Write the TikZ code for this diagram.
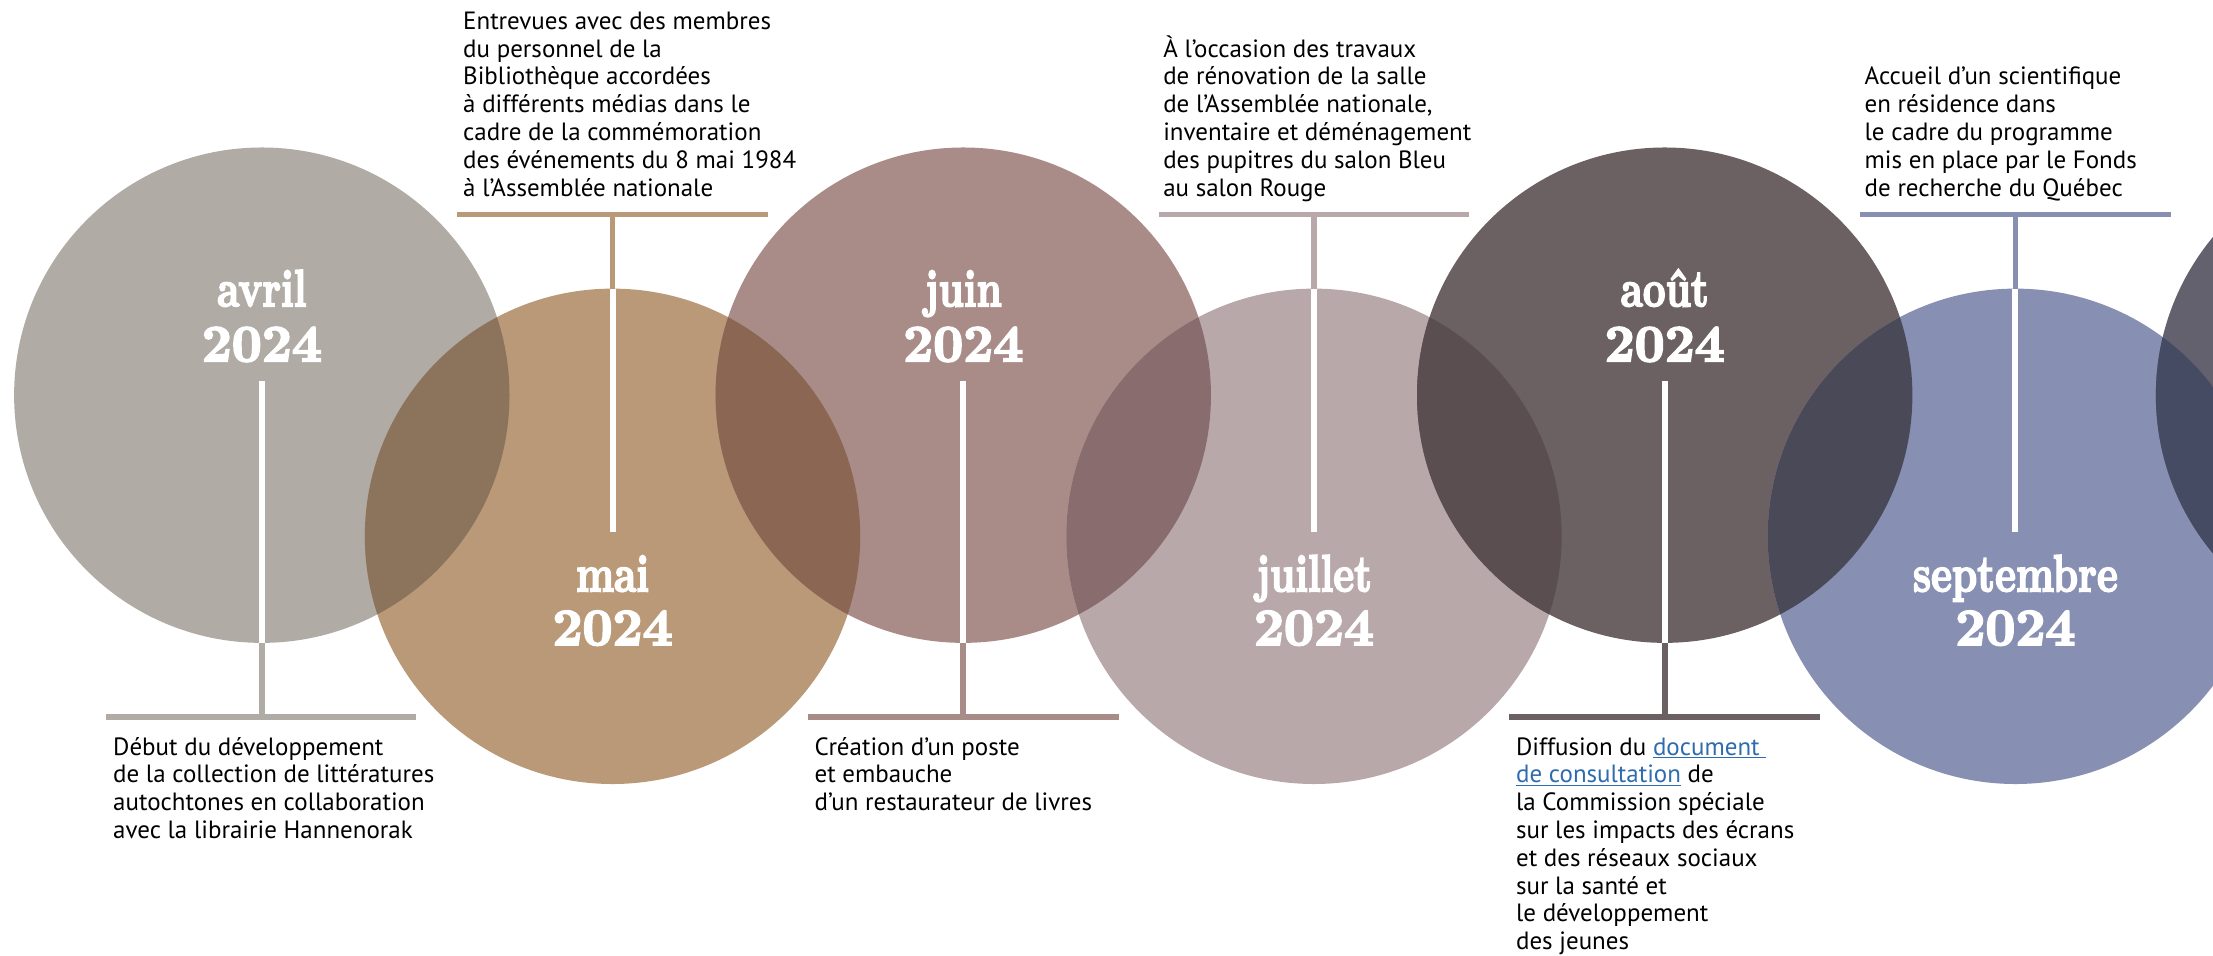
\documentclass[tikz,border=0pt]{standalone}
\usepackage{fontspec}
\usepackage{graphicx}
\newfontfamily\bodyfont{PT Sans}
\newfontfamily\dispfont{lmroman10-bold.otf}[FakeBold=3.5]
\definecolor{cA}{HTML}{B1ABA5}
\definecolor{cM}{HTML}{BA9978}
\definecolor{cJn}{HTML}{A98C88}
\definecolor{cJl}{HTML}{B8A8AA}
\definecolor{cAo}{HTML}{6B6162}
\definecolor{cS}{HTML}{8790B2}
\definecolor{cF}{HTML}{64616F}
\definecolor{oAM}{HTML}{8B735C}
\definecolor{oMJ}{HTML}{8A6653}
\definecolor{oJJ}{HTML}{896C6E}
\definecolor{oJA}{HTML}{5B4E51}
\definecolor{oAS}{HTML}{4A4957}
\definecolor{oSF}{HTML}{454B62}
\definecolor{linkc}{HTML}{2F6BAF}
\newcommand\lnk[1]{\textcolor{linkc}{\underline{#1}}}
\newcommand\mth[1]{\scalebox{0.76}[1]{#1}}
\tikzset{
  circ/.style={circle, minimum size=351pt, inner sep=0pt, outer sep=0pt, draw=none},
  lbl/.style={text=white, font=\dispfont\fontsize{37}{37}\selectfont, inner sep=0pt, anchor=base},
  barline/.style={line width=4pt},
  wline/.style={white, line width=4.25pt},
  toptext/.style={anchor=south west, align=left, inner sep=0pt, font=\bodyfont\fontsize{17.7}{19.7}\selectfont},
  bottext/.style={anchor=north west, align=left, inner sep=0pt, font=\bodyfont\fontsize{17.7}{19.7}\selectfont},
}
\begin{document}
\begin{tikzpicture}[x=1pt,y=-1pt]
\useasboundingbox (0,0) rectangle (1568,677);
% circles
\node[circ, fill=cA]  (avC) at (185.5,280) {};
\node[circ, fill=cM]  (maC) at (434,380) {};
\node[circ, fill=cJn] (jnC) at (682.5,280) {};
\node[circ, fill=cJl] (jlC) at (931,380) {};
\node[circ, fill=cAo] (aoC) at (1179.5,280) {};
\node[circ, fill=cS]  (seC) at (1428,380) {};
\node[circ, fill=cF]  (fiC) at (1703,280) {};
% overlaps
\begin{scope}\clip (avC.center) circle (175.5pt); \fill[oAM] (maC.center) circle (175.5pt);\end{scope}
\begin{scope}\clip (maC.center) circle (175.5pt); \fill[oMJ] (jnC.center) circle (175.5pt);\end{scope}
\begin{scope}\clip (jnC.center) circle (175.5pt); \fill[oJJ] (jlC.center) circle (175.5pt);\end{scope}
\begin{scope}\clip (jlC.center) circle (175.5pt); \fill[oJA] (aoC.center) circle (175.5pt);\end{scope}
\begin{scope}\clip (aoC.center) circle (175.5pt); \fill[oAS] (seC.center) circle (175.5pt);\end{scope}
\begin{scope}\clip (seC.center) circle (175.5pt); \fill[oSF] (fiC.center) circle (175.5pt);\end{scope}
% labels
\node[lbl] (avM) at (185.5,217) {\mth{avril}};
\node[lbl] (avY) at (185.5,256) {2024};
\node[lbl] (maM) at (434,419) {\mth{mai}};
\node[lbl] (maY) at (434,457) {2024};
\node[lbl] (jnM) at (682.5,217) {\mth{juin}};
\node[lbl] (jnY) at (682.5,256) {2024};
\node[lbl] (jlM) at (931,419) {\mth{juillet}};
\node[lbl] (jlY) at (931,457) {2024};
\node[lbl] (aoM) at (1179.5,217) {\mth{août}};
\node[lbl] (aoY) at (1179.5,256) {2024};
\node[lbl] (seM) at (1428,419) {\mth{septembre}};
\node[lbl] (seY) at (1428,457) {2024};
% connector coordinates
\coordinate (avW) at (185.5,270);  \coordinate (avB) at (185.5,508);
\coordinate (avBL) at (75,508);    \coordinate (avBR) at (295,508);
\coordinate (maW) at (434,377);    \coordinate (maB) at (434,152);
\coordinate (maBL) at (324,152);   \coordinate (maBR) at (544,152);
\coordinate (jnW) at (682.5,270);  \coordinate (jnB) at (682.5,508);
\coordinate (jnBL) at (572.5,508); \coordinate (jnBR) at (792.5,508);
\coordinate (jlW) at (931,377);    \coordinate (jlB) at (931,152);
\coordinate (jlBL) at (821,152);   \coordinate (jlBR) at (1041,152);
\coordinate (aoW) at (1179.5,270); \coordinate (aoB) at (1179.5,508);
\coordinate (aoBL) at (1069.5,508);\coordinate (aoBR) at (1289.5,508);
\coordinate (seW) at (1428,377);   \coordinate (seB) at (1428,152);
\coordinate (seBL) at (1318,152);  \coordinate (seBR) at (1538,152);
% connectors
\draw[barline, cA] (avC.south) -- (avB);  \draw[barline, cA] (avBL) -- (avBR);  \draw[wline] (avW) -- (avC.south);
\draw[barline, cM] (maB) -- (maC.north);  \draw[barline, cM] (maBL) -- (maBR);  \draw[wline] (maC.north) -- (maW);
\draw[barline, cJn] (jnC.south) -- (jnB); \draw[barline, cJn] (jnBL) -- (jnBR); \draw[wline] (jnW) -- (jnC.south);
\draw[barline, cJl] (jlB) -- (jlC.north); \draw[barline, cJl] (jlBL) -- (jlBR); \draw[wline] (jlC.north) -- (jlW);
\draw[barline, cAo] (aoC.south) -- (aoB); \draw[barline, cAo] (aoBL) -- (aoBR); \draw[wline] (aoW) -- (aoC.south);
\draw[barline, cS] (seB) -- (seC.north);  \draw[barline, cS] (seBL) -- (seBR);  \draw[wline] (seC.north) -- (seW);
% texts
\node[toptext] (maT) at (328,145) {Entrevues avec des membres\\du personnel de la\\Bibliothèque accordées\\à différents médias dans le\\cadre de la commémoration\\des événements du 8 mai 1984\\à l’Assemblée nationale\strut};
\node[toptext] (jlT) at (824,145) {À l’occasion des travaux\\de rénovation de la salle\\de l’Assemblée nationale,\\inventaire et déménagement\\des pupitres du salon Bleu\\au salon Rouge\strut};
\node[toptext] (seT) at (1321,145) {Accueil d’un scientifique\\en résidence dans\\le cadre du programme\\mis en place par le Fonds\\de recherche du Québec\strut};
\node[bottext] (avT) at (80,521) {\strut Début du développement\\de la collection de littératures\\autochtones en collaboration\\avec la librairie Hannenorak};
\node[bottext] (jnT) at (577,521) {\strut Création d’un poste\\et embauche\\d’un restaurateur de livres};
\node[bottext] (aoT) at (1074,521) {\strut Diffusion du \lnk{document\ }\\\lnk{de consultation} de\\la Commission spéciale\\sur les impacts des écrans\\et des réseaux sociaux\\sur la santé et\\le développement\\des jeunes};
\end{tikzpicture}
\end{document}
